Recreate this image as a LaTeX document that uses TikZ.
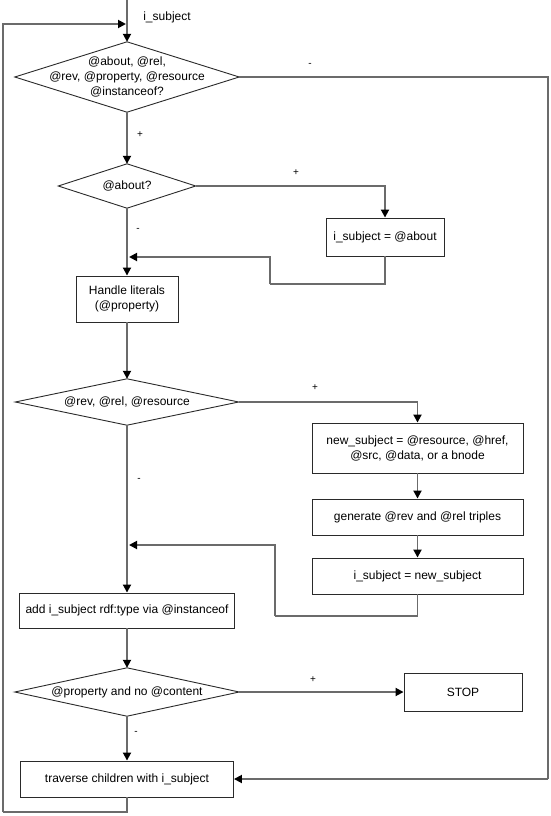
\documentclass[tikz,border=0pt]{standalone}
\usepackage{fontspec}
\setmainfont{Liberation Sans}
\usetikzlibrary{arrows.meta}
\definecolor{conncol}{HTML}{6B6B6B}
\definecolor{edgecol}{HTML}{2A2A2A}
\tikzset{
  boxst/.style={draw=edgecol, line width=0.9pt, fill=white, inner sep=0pt, align=center,
    font=\fontsize{12}{15}\selectfont},
  diast/.style={inner sep=0pt, align=center, font=\fontsize{12}{15}\selectfont},
  diaedge/.style={draw=edgecol, line width=0.9pt, line join=miter},
  conn/.style={draw=conncol, line width=1.8pt},
  arr/.style={conn, -{Triangle[length=8pt,width=8pt,color=black]}},
  lbl/.style={inner sep=0pt, font=\fontsize{10}{11}\selectfont},
}
\begin{document}
\begin{tikzpicture}[x=1pt,y=-1pt]
\fill[white] (0,0) rectangle (551,816);
\useasboundingbox (0,0) rectangle (551,816);

% decisions
\node[diast, minimum width=224, minimum height=70] (d1) at (127,77) {@about, @rel,\\@rev, @property, @resource\\@instanceof?};
\node[diast, minimum width=137, minimum height=44] (d2) at (127,186) {@about?};
\node[diast, minimum width=223, minimum height=46] (d3) at (127,402) {@rev, @rel, @resource};
\node[diast, minimum width=224, minimum height=48] (d4) at (127,692) {@property and no @content};
\foreach \d in {d1,d2,d3,d4}{
  \draw[diaedge] (\d.north) -- (\d.east) -- (\d.south) -- (\d.west) -- cycle;
}

% boxes
\node[boxst, minimum width=118, minimum height=38] (ab) at (385,237) {i\_subject = @about};
\node[boxst, minimum width=102, minimum height=46] (hl) at (127,299) {Handle literals\\(@property)};
\node[boxst, minimum width=211, minimum height=50] (ns) at (417.5,448) {new\_subject = @resource, @href,\\@src, @data, or a bnode};
\node[boxst, minimum width=211, minimum height=36] (gen) at (417.5,517) {generate @rev and @rel triples};
\node[boxst, minimum width=211, minimum height=36] (is) at (417.5,576) {i\_subject = new\_subject};
\node[boxst, minimum width=215, minimum height=35] (add) at (127,610.5) {add i\_subject rdf:type via @instanceof};
\node[boxst, minimum width=118, minimum height=38] (stop) at (463,692) {STOP};
\node[boxst, minimum width=213, minimum height=36] (trav) at (127,779) {traverse children with i\_subject};

% helper coordinates
\coordinate (top) at (127,0);
\coordinate (entry) at (126,24);
\coordinate (lt) at (3,24);
\coordinate (lb) at (3,812);
\coordinate (rr) at (548,779);
\coordinate (ar1) at (270,284);
\coordinate (aj) at (129,257);
\coordinate (ir1) at (275,616);
\coordinate (ij) at (129,545);

% connectors
\draw[arr] (top) -- (d1.north);
\draw[arr] (lb) -- (lt) -- (entry);
\draw[conn] (trav.south) |- (lb);
\draw[arr] (d1.south) -- (d2.north);
\draw[arr] (d2.east) -| (ab.north);
\draw[conn] (ab.south) |- (ar1);
\draw[arr] (ar1) |- (aj);
\draw[arr] (d2.south) -- (hl.north);
\draw[arr] (hl.south) -- (d3.north);
\draw[arr] (d3.east) -| (ns.north);
\draw[arr] (ns.south) -- (gen.north);
\draw[arr] (gen.south) -- (is.north);
\draw[conn] (is.south) |- (ir1);
\draw[arr] (ir1) |- (ij);
\draw[arr] (d3.south) -- (add.north);
\draw[arr] (add.south) -- (d4.north);
\draw[arr] (d4.east) -- (stop.west);
\draw[arr] (d4.south) -- (trav.north);
\draw[conn] (d1.east) -| (rr);
\draw[arr] (rr) -- (trav.east);

% labels
\node[inner sep=0pt, font=\fontsize{12}{13}\selectfont] (lsub) at (167,17) {i\_subject};
\node[lbl] (l1) at (310,65) {-};
\node[lbl] (l2) at (140,135) {+};
\node[lbl] (l3) at (296,173) {+};
\node[lbl] (l4) at (138,230) {-};
\node[lbl] (l5) at (315,388) {+};
\node[lbl] (l6) at (139,480) {-};
\node[lbl] (l7) at (313,680) {+};
\node[lbl] (l8) at (136,733) {-};
\end{tikzpicture}
\end{document}
